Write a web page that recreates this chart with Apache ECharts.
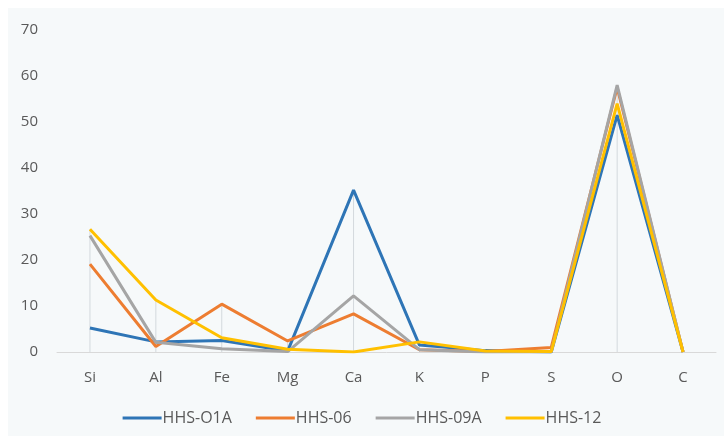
<!DOCTYPE html>
<html>
<head>
<meta charset="utf-8">
<script src="https://cdn.jsdelivr.net/npm/echarts@6/dist/echarts.min.js"></script>
<style>
  html, body { margin: 0; padding: 0; background: #fff; }
  #chart { width: 724px; height: 436px; }
</style>
</head>
<body>
<div id="chart"></div>
<script>
// element categories
var elements = ["Si", "Al", "Fe", "Mg", "Ca", "K", "P", "S", "O", "C"];
// series values
var hhs01a = [5.2, 2.2, 2.5, 0.2, 35.2, 1.5, 0.3, 0.0, 51.5, 0.0];
var hhs06 = [19.1, 1.2, 10.4, 2.4, 8.3, 0.5, 0.1, 1.0, 57.5, 0.0];
var hhs09a = [25.3, 2.1, 0.7, 0.1, 12.2, 0.5, 0.0, 0.0, 58.0, 0.0];
var hhs12 = [26.7, 11.3, 3.1, 0.6, 0.0, 2.2, 0.2, 0.1, 54.0, 0.0];
var seriesNames = ["HHS-O1A", "HHS-06", "HHS-09A", "HHS-12"];
var yTicks = [0, 10, 20, 30, 40, 50, 60, 70];

// drop lines go up to the highest point of each category
var dropTop = elements.map(function (e, i) {
  return Math.max(hhs01a[i], hhs06[i], hhs09a[i], hhs12[i]);
});

var myChart = echarts.init(document.getElementById("chart"));
var font = "'Open Sans', sans-serif";

function lineSeries(name, data, color) {
  return {
    name: name,
    type: "line",
    data: data,
    symbol: "none",
    smooth: false,
    lineStyle: { width: 3, color: color },
    itemStyle: { color: color },
    z: 3
  };
}

myChart.setOption({
  animation: false,
  backgroundColor: "#ffffff",
  graphic: [{
    type: "rect",
    left: 8, top: 8,
    shape: { width: 716, height: 428 },
    style: { fill: "#f6f9fa" },
    z: -10
  }],
  grid: { left: 57, right: 8, top: 30, bottom: 84 },
  legend: {
    bottom: 5,
    left: "center",
    itemWidth: 39,
    itemHeight: 3,
    itemGap: 24,
    icon: "rect",
    data: seriesNames,
    textStyle: { color: "#595959", fontSize: 16, fontFamily: font, padding: [0, 0, 0, -4] }
  },
  xAxis: {
    type: "category",
    data: elements,
    boundaryGap: true,
    axisLine: { lineStyle: { color: "#d9d9d9", width: 1 } },
    axisTick: { show: false },
    axisLabel: { color: "#595959", fontSize: 15, fontFamily: font, margin: 18 },
    splitLine: { show: false }
  },
  yAxis: {
    type: "value",
    min: yTicks[0],
    max: yTicks[yTicks.length - 1],
    interval: 10,
    axisLine: { show: false },
    axisTick: { show: false },
    splitLine: { show: false },
    axisLabel: { color: "#595959", fontSize: 15, fontFamily: font, margin: 19 }
  },
  series: [
    {
      name: "drop",
      type: "bar",
      data: dropTop,
      barWidth: 1,
      silent: true,
      itemStyle: { color: "#d3d9dd" },
      z: 1
    },
    lineSeries(seriesNames[0], hhs01a, "#2e75b6"),
    lineSeries(seriesNames[1], hhs06, "#ed7d31"),
    lineSeries(seriesNames[2], hhs09a, "#a5a5a5"),
    lineSeries(seriesNames[3], hhs12, "#ffc000")
  ]
});
</script>
</body>
</html>
